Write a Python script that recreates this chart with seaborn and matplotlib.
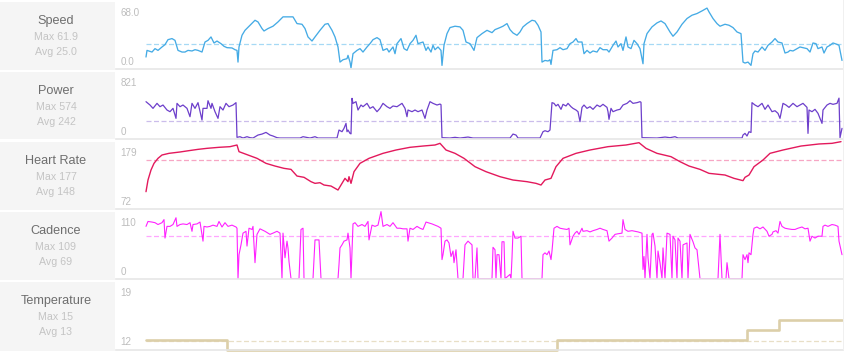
import matplotlib
matplotlib.use("Agg")
import matplotlib.pyplot as plt
from matplotlib.patches import Rectangle
import pandas as pd
import seaborn as sns

# ---------------- data (time in seconds, value) ----------------
speed = [(0, 11.7), (10, 18.5), (60, 16.8), (90, 20.3), (120, 18.5), (160, 22.0), (190, 24.4), (220, 29.5),
         (260, 30.6), (290, 28.8), (320, 18.5), (360, 16.8), (390, 16.8), (420, 18.5), (460, 17.9), (490, 19.2),
         (520, 18.5), (560, 16.8), (590, 27.1), (620, 28.8), (650, 32.3), (680, 26.1), (710, 28.1), (750, 25.4),
         (780, 22.7), (810, 21.3), (860, 21.0), (890, 19.2), (910, 18.5), (920, 6.5), (930, 22.0), (960, 34.0),
         (990, 39.1), (1040, 44.3), (1090, 49.4), (1120, 47.7), (1160, 40.9), (1180, 38.4), (1220, 40.9),
         (1270, 43.3), (1320, 47.7), (1370, 52.9), (1420, 52.9), (1470, 52.9), (1510, 46.0), (1560, 45.3),
         (1590, 40.9), (1620, 32.3), (1660, 28.1), (1690, 32.3), (1740, 39.1), (1790, 45.3), (1820, 46.0),
         (1860, 39.1), (1890, 32.3), (1920, 22.0), (1940, 6.5), (1970, 8.9), (2010, 10.0), (2020, 13.4),
         (2040, 6.5), (2050, 0.5), (2070, 15.1), (2110, 18.5), (2140, 20.3), (2170, 16.8), (2210, 22.0),
         (2240, 25.4), (2270, 29.5), (2310, 31.6), (2340, 29.5), (2370, 18.5), (2410, 20.3), (2430, 16.8),
         (2470, 22.0), (2490, 15.1), (2510, 25.4), (2550, 30.6), (2580, 20.3), (2610, 18.5), (2640, 25.4),
         (2670, 28.8), (2700, 34.0), (2720, 25.4), (2770, 27.1), (2800, 18.5), (2820, 22.0), (2850, 16.8),
         (2870, 23.7), (2890, 19.2), (2920, 22.0), (2950, 18.5), (2960, 3.1), (2980, 23.7), (3010, 35.7),
         (3040, 41.9), (3090, 43.3), (3140, 42.6), (3170, 39.1), (3200, 27.1), (3240, 25.4), (3280, 18.5),
         (3310, 31.6), (3360, 35.7), (3410, 39.1), (3460, 36.7), (3490, 39.8), (3540, 41.9), (3570, 43.3),
         (3610, 46.0), (3640, 39.8), (3670, 36.4), (3710, 34.0), (3740, 37.4), (3770, 42.6), (3810, 46.0),
         (3860, 49.4), (3890, 48.7), (3920, 44.3), (3950, 37.4), (3960, 6.5), (3990, 8.2), (4020, 7.6),
         (4040, 8.9), (4050, 4.1), (4070, 18.5), (4110, 19.2), (4140, 21.3), (4170, 19.2), (4210, 20.3),
         (4240, 25.4), (4270, 27.1), (4300, 30.6), (4320, 27.1), (4360, 27.1), (4380, 15.1), (4410, 18.5),
         (4440, 15.8), (4470, 17.9), (4510, 16.8), (4540, 21.3), (4570, 19.2), (4610, 19.2), (4630, 16.8),
         (4670, 23.7), (4700, 28.1), (4720, 22.0), (4750, 25.4), (4770, 18.5), (4800, 32.3), (4820, 22.0),
         (4850, 20.3), (4880, 28.8), (4910, 25.4), (4940, 20.3), (4970, 4.8), (4980, 25.4), (5010, 35.7),
         (5060, 42.6), (5110, 46.7), (5150, 48.7), (5190, 46.0), (5240, 37.4), (5270, 33.0), (5310, 37.4),
         (5360, 45.3), (5410, 51.2), (5460, 54.6), (5510, 56.3), (5560, 59.0), (5610, 61.9), (5630, 58.0),
         (5670, 51.2), (5710, 46.0), (5740, 43.3), (5790, 45.3), (5830, 44.3), (5870, 41.9), (5910, 37.4),
         (5950, 35.7), (5970, 6.5), (5990, 5.5), (6020, 6.5), (6050, 3.1), (6070, 15.1), (6090, 17.9),
         (6120, 16.8), (6160, 22.0), (6190, 18.5), (6220, 23.7), (6260, 27.1), (6290, 30.6), (6320, 27.1),
         (6360, 26.1), (6390, 15.8), (6420, 16.8), (6440, 18.5), (6470, 17.9), (6510, 20.3), (6540, 22.0),
         (6570, 21.3), (6610, 20.3), (6640, 16.8), (6670, 26.1), (6700, 25.4), (6720, 20.3), (6760, 22.0),
         (6780, 15.8), (6810, 22.0), (6840, 23.7), (6870, 26.1), (6910, 24.7), (6930, 23.7), (6960, 8.2)]

power = [(0, 523), (40, 475), (70, 427), (110, 499), (140, 451), (170, 475), (210, 403), (240, 379), (270, 427),
         (300, 283), (310, 499), (340, 451), (370, 475), (410, 427), (440, 307), (460, 499), (490, 427),
         (520, 509), (560, 259), (570, 427), (610, 427), (620, 537), (650, 427), (660, 499), (690, 379),
         (720, 283), (740, 451), (770, 403), (800, 499), (830, 451), (870, 475), (900, 509), (910, 10),
         (940, 19), (970, 0), (1010, 19), (1040, 5), (1070, 0), (1120, 43), (1160, 57), (1200, 81), (1240, 43),
         (1270, 29), (1310, 5), (1340, 0), (1540, 0), (1570, 19), (1640, 0), (1690, 19), (1720, 0), (1910, 0),
         (1930, 115), (1960, 91), (1980, 139), (2000, 211), (2010, 91), (2020, 115), (2040, 67), (2050, 60),
         (2060, 571), (2070, 499), (2100, 523), (2120, 403), (2150, 475), (2170, 451), (2210, 499), (2240, 427),
         (2270, 451), (2310, 379), (2340, 427), (2370, 499), (2410, 451), (2440, 427), (2470, 461), (2510, 451),
         (2560, 499), (2590, 427), (2610, 307), (2620, 403), (2660, 379), (2690, 403), (2720, 379), (2760, 403),
         (2790, 283), (2810, 403), (2840, 523), (2870, 499), (2910, 475), (2940, 489), (2950, 480), (2960, 5),
         (3040, 0), (3090, 10), (3140, 0), (3220, 14), (3270, 0), (3640, 0), (3670, 57), (3700, 43), (3720, 0),
         (3940, 0), (3970, 91), (3990, 105), (4020, 91), (4040, 115), (4060, 509), (4080, 499), (4100, 461),
         (4120, 485), (4150, 413), (4170, 485), (4200, 461), (4220, 499), (4250, 451), (4270, 427), (4300, 403),
         (4320, 379), (4340, 235), (4360, 441), (4380, 475), (4410, 427), (4440, 451), (4470, 413), (4510, 475),
         (4540, 451), (4570, 485), (4610, 441), (4620, 379), (4630, 269), (4650, 427), (4670, 379), (4710, 403),
         (4740, 413), (4770, 475), (4810, 499), (4840, 537), (4870, 499), (4910, 509), (4940, 523), (4950, 515),
         (4960, 5), (5110, 0), (5190, 14), (5240, 5), (5290, 19), (5320, 0), (5960, 0), (5970, 43), (5990, 67),
         (6010, 29), (6030, 91), (6050, 80), (6060, 509), (6090, 475), (6120, 451), (6160, 499), (6190, 413),
         (6220, 475), (6260, 379), (6290, 393), (6320, 355), (6340, 283), (6370, 499), (6400, 475), (6430, 441),
         (6470, 499), (6510, 451), (6540, 475), (6570, 499), (6610, 441), (6620, 67), (6630, 403), (6660, 379),
         (6690, 413), (6720, 355), (6760, 211), (6770, 403), (6810, 475), (6840, 499), (6870, 485), (6910, 499),
         (6930, 574), (6940, 5), (6960, 139)]

heart_rate = [(0, 99.0), (20, 117.2), (50, 132.8), (80, 143.2), (120, 151.0), (160, 156.2), (230, 158.8),
              (340, 160.9), (430, 163.0), (520, 165.0), (610, 166.6), (730, 168.2), (840, 169.2), (910, 171.8),
              (930, 161.4), (1020, 156.2), (1110, 151.0), (1200, 143.2), (1290, 139.0), (1380, 135.4),
              (1450, 133.8), (1510, 123.4), (1580, 121.4), (1650, 114.6), (1690, 112.0), (1740, 113.0),
              (1780, 109.4), (1850, 107.8), (1920, 101.6), (1950, 109.4), (1990, 119.8), (2020, 114.6),
              (2030, 122.4), (2050, 112.0), (2080, 130.2), (2140, 143.2), (2230, 151.0), (2370, 158.8),
              (2500, 164.0), (2640, 168.2), (2770, 170.2), (2890, 171.8), (2940, 174.4), (3000, 164.0),
              (3090, 158.8), (3180, 151.0), (3290, 138.0), (3400, 130.2), (3540, 122.4), (3670, 117.2),
              (3810, 114.6), (3900, 112.0), (3950, 109.4), (3990, 117.2), (4050, 119.8), (4100, 138.0),
              (4170, 151.0), (4300, 158.8), (4440, 164.0), (4620, 169.2), (4800, 171.8), (4930, 175.4),
              (5000, 166.6), (5110, 158.8), (5250, 153.6), (5340, 145.8), (5430, 139.0), (5540, 133.8),
              (5630, 127.6), (5790, 125.0), (5880, 119.8), (5970, 116.2), (5990, 121.4), (6030, 125.0),
              (6080, 138.0), (6170, 148.4), (6240, 158.8), (6370, 164.0), (6550, 170.2), (6730, 173.4),
              (6860, 174.4), (6950, 177.0)]

cadence = [(0, 85), (20, 93), (60, 92), (90, 91), (120, 88), (160, 91), (180, 96), (190, 66), (210, 85), (240, 85),
           (270, 88), (300, 99), (310, 85), (340, 88), (370, 89), (410, 88), (440, 91), (460, 77), (470, 88),
           (510, 89), (540, 92), (570, 61), (580, 85), (610, 84), (640, 85), (670, 87), (710, 85), (730, 93),
           (760, 84), (790, 91), (820, 85), (860, 87), (900, 84), (910, 82), (920, 0), (930, 39), (950, 55),
           (970, 74), (1000, 77), (1010, 53), (1030, 82), (1060, 80), (1070, 85), (1090, 26), (1110, 72),
           (1140, 81), (1190, 77), (1240, 72), (1270, 74), (1310, 77), (1340, 74), (1350, 40), (1360, 0),
           (1370, 74), (1390, 34), (1410, 61), (1420, 50), (1430, 28), (1450, 0), (1530, 0), (1550, 80),
           (1570, 82), (1580, 0), (1670, 0), (1690, 63), (1730, 63), (1750, 0), (1920, 0), (1930, 23),
           (1940, 50), (1960, 55), (1980, 61), (2010, 63), (2020, 74), (2040, 50), (2050, 0), (2070, 89),
           (2090, 91), (2120, 85), (2160, 88), (2190, 85), (2220, 93), (2230, 63), (2260, 87), (2290, 85),
           (2320, 87), (2350, 109), (2370, 85), (2410, 88), (2440, 85), (2470, 91), (2510, 82), (2540, 82),
           (2570, 81), (2610, 81), (2620, 61), (2640, 82), (2670, 80), (2710, 85), (2740, 82), (2770, 80),
           (2800, 92), (2820, 91), (2860, 89), (2890, 87), (2920, 85), (2950, 82), (2960, 31), (2970, 39),
           (2990, 61), (3010, 63), (3030, 58), (3050, 36), (3070, 45), (3080, 26), (3100, 47), (3120, 0),
           (3170, 0), (3190, 55), (3220, 61), (3260, 55), (3270, 0), (3290, 0), (3310, 50), (3320, 0),
           (3460, 0), (3470, 51), (3490, 47), (3500, 0), (3510, 39), (3530, 39), (3550, 0), (3560, 60),
           (3580, 60), (3590, 0), (3640, 7), (3650, 0), (3660, 34), (3670, 77), (3690, 66), (3720, 66),
           (3750, 69), (3760, 0), (3960, 0), (3970, 39), (3990, 42), (4010, 39), (4030, 45), (4050, 31),
           (4060, 45), (4080, 82), (4110, 85), (4140, 82), (4170, 81), (4210, 80), (4230, 82), (4240, 55),
           (4270, 69), (4290, 74), (4310, 77), (4330, 72), (4360, 82), (4370, 77), (4410, 78), (4440, 76),
           (4470, 78), (4510, 80), (4540, 82), (4570, 80), (4610, 78), (4630, 61), (4660, 66), (4690, 72),
           (4720, 73), (4760, 74), (4770, 96), (4790, 80), (4820, 77), (4860, 78), (4890, 77), (4920, 76),
           (4960, 74), (4970, 15), (4980, 36), (4990, 0), (5010, 72), (5020, 34), (5040, 0), (5060, 72),
           (5070, 74), (5090, 53), (5110, 0), (5120, 45), (5140, 26), (5160, 0), (5170, 50), (5190, 0),
           (5210, 74), (5240, 72), (5260, 0), (5270, 69), (5290, 63), (5310, 0), (5320, 66), (5340, 61),
           (5360, 0), (5370, 55), (5410, 58), (5420, 0), (5440, 72), (5470, 60), (5490, 50), (5510, 47),
           (5540, 0), (5720, 0), (5740, 72), (5760, 0), (5800, 0), (5810, 26), (5830, 0), (5960, 0),
           (5970, 39), (5990, 31), (6010, 39), (6020, 26), (6030, 42), (6050, 39), (6070, 72), (6080, 82),
           (6110, 84), (6140, 81), (6170, 84), (6210, 77), (6230, 69), (6260, 72), (6270, 76), (6300, 78),
           (6320, 74), (6340, 93), (6360, 85), (6390, 82), (6420, 81), (6460, 80), (6490, 80), (6520, 82),
           (6560, 84), (6590, 81), (6620, 82), (6640, 61), (6660, 69), (6690, 66), (6720, 69), (6760, 69),
           (6770, 85), (6790, 87), (6820, 85), (6860, 88), (6890, 87), (6920, 85), (6930, 61), (6960, 39)]

temperature = [(0, 13), (810, 12), (4110, 13), (6010, 14), (6330, 15), (6960, 15)]

names = ["Speed", "Power", "Heart Rate", "Cadence", "Temperature"]
max_values = ["61.9", "574", "177", "109", "15"]
avg_values = [25.0, 242, 148, 69, 12.9]
avg_labels = ["25.0", "242", "148", "69", "13"]
axis_top_labels = ["68.0", "821", "179", "110", "19"]
axis_bottom_labels = ["0.0", "0", "72", "0", "12"]
series = [speed, power, heart_rate, cadence, temperature]

# ---------------- style ----------------
line_colors = ["#45abe5", "#6d3fcb", "#e3195c", "#ff22ff", "#dccfa9"]
avg_colors = ["#a6d9f5", "#cbbdeb", "#f7a6c4", "#ffa6ff", "#e8dfc6"]
line_widths = [0.95, 0.9, 1.0, 0.8, 1.9]
y_limits = [(-0.6, 70.2), (-14, 979), (72, 179.6), (-0.5, 111.6), (12.0, 19.0)]
rows_px = [(0, 69), (70, 139), (140, 209), (210, 279), (280, 350)]
W, H = 845, 355
PLOT_L, PLOT_R = 116, 843
T_LEFT, T_RIGHT = -300, 6970

sns.set_style("white")
plt.rcParams["font.family"] = ["Liberation Sans", "DejaVu Sans"]

fig = plt.figure(figsize=(W / 100, H / 100), dpi=100)
fig.patch.set_facecolor("white")

for i, (name, data) in enumerate(zip(names, series)):
    top, bot = rows_px[i]
    ax = fig.add_axes([PLOT_L / W, 1 - bot / H, (PLOT_R - PLOT_L) / W, (bot - top) / H])
    ax.set_facecolor("white")
    df = pd.DataFrame(data, columns=["t", "v"])
    kw = dict(drawstyle="steps-post") if name == "Temperature" else {}
    sns.lineplot(data=df, x="t", y="v", ax=ax, color=line_colors[i], lw=line_widths[i],
                 estimator=None, sort=False, clip_on=(name != "Temperature"), zorder=2, **kw)
    ax.hlines(avg_values[i], df["t"].iloc[0], df["t"].iloc[-1], colors=avg_colors[i],
              linestyles=(0, (4, 2)), lw=0.9, zorder=1)
    ax.set_xlim(T_LEFT, T_RIGHT)
    ax.set_ylim(*y_limits[i])
    ax.set_xticks([]); ax.set_yticks([])
    ax.set_xlabel(""); ax.set_ylabel("")
    for s in ["top", "left", "right"]:
        ax.spines[s].set_visible(False)
    ax.spines["bottom"].set_color("#e6e6e6")
    ax.spines["bottom"].set_linewidth(1.2)
    ax.spines["bottom"].set_zorder(3)

    # axis range labels
    lx = (120.5 - PLOT_L) / (PLOT_R - PLOT_L)
    ax.text(lx, 1 - 12.7 / (bot - top), axis_top_labels[i], transform=ax.transAxes,
            ha="left", va="center", fontsize=7.1, color="#bdbdbd")
    ax.text(lx, 1 - 62.3 / (bot - top), axis_bottom_labels[i], transform=ax.transAxes,
            ha="left", va="center", fontsize=7.1, color="#bdbdbd")

    # left info panel
    fig.patches.append(Rectangle((0, 1 - (bot + 0.5) / H), 115 / W, (bot - top - 1.5) / H,
                                 transform=fig.transFigure, facecolor="#f5f5f5",
                                 edgecolor="none", zorder=0))
    fig.text(56 / W, 1 - (top + 20.6) / H, name, ha="center", va="center",
             fontsize=9.1, color="#6e6e6e")
    fig.text(56 / W, 1 - (top + 37.3) / H, f"Max {max_values[i]}", ha="center", va="center",
             fontsize=7.7, color="#c4c4c4")
    fig.text(56 / W, 1 - (top + 52.3) / H, f"Avg {avg_labels[i]}", ha="center", va="center",
             fontsize=7.7, color="#c4c4c4")

# right edge strip
fig.patches.append(Rectangle((843 / W, 1 - 350 / H), 2 / W, 350 / H, transform=fig.transFigure,
                             facecolor="#f0f0f0", edgecolor="none", zorder=0))

fig.savefig("out.png", dpi=100, facecolor="white")
